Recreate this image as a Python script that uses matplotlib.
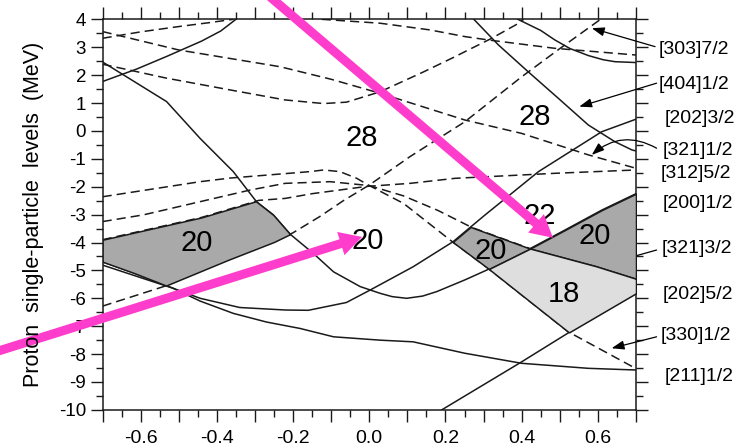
import numpy as np
import matplotlib
matplotlib.use('Agg')
import matplotlib.pyplot as plt
from matplotlib.ticker import MultipleLocator, FuncFormatter
from matplotlib.patches import FancyArrowPatch

plt.rcParams['font.family'] = ['Liberation Sans', 'DejaVu Sans']
plt.rcParams['axes.unicode_minus'] = False

# ---- single-particle levels, (deformation, energy) points ----
# solid levels
x_200_12 = [-0.70, -0.532, -0.444, -0.357, -0.296, -0.252, -0.208, -0.147, -0.094, -0.024,
            0.028, 0.06, 0.098, 0.14, 0.177, 0.251, 0.308, 0.422, 0.514, 0.61, 0.70]
y_200_12 = [2.47, 1.05, -0.27, -1.46, -2.54, -3.01, -3.70, -4.39, -5.05, -5.58,
            -5.82, -5.94, -6.00, -5.92, -5.76, -5.34, -4.99, -4.22, -3.55, -2.84, -2.25]

x_202_32 = [-0.70, -0.62, -0.515, -0.444, -0.34, -0.22, -0.16, -0.06, 0.0, 0.115,
            0.22, 0.304, 0.352, 0.444, 0.61, 0.70]
y_202_32 = [-4.69, -5.08, -5.64, -6.00, -6.33, -6.42, -6.43, -6.15, -5.72, -4.87,
            -3.97, -3.01, -2.48, -1.46, -0.03, 0.42]

x_211_12 = [-0.70, -0.60, -0.515, -0.444, -0.357, -0.27, -0.182, -0.094, 0.028, 0.115,
            0.251, 0.40, 0.575, 0.70]
y_211_12 = [-4.81, -5.26, -5.64, -6.10, -6.54, -6.85, -7.08, -7.38, -7.50, -7.56,
            -7.97, -8.33, -8.51, -8.57]

x_202_52 = [0.19, 0.396, 0.527, 0.70]
y_202_52 = [-10.0, -8.31, -7.20, -5.82]

x_404_12 = [0.273, 0.339, 0.417, 0.496, 0.575, 0.645, 0.689, 0.70]
y_404_12 = [4.02, 3.08, 2.12, 1.17, 0.21, -0.39, -0.68, -0.72]

x_top_r = [0.39, 0.45, 0.487, 0.527, 0.575, 0.614, 0.645, 0.70]
y_top_r = [4.0, 3.6, 3.26, 2.95, 2.70, 2.55, 2.48, 2.45]

x_top_l = [-0.70, -0.61, -0.53, -0.44, -0.39, -0.35]
y_top_l = [1.77, 2.22, 2.68, 3.22, 3.58, 4.0]

# dashed levels
x_d1 = [-0.70, -0.60, -0.50, -0.42, -0.357]
y_d1 = [3.32, 3.55, 3.74, 3.88, 4.0]

x_321_12 = [-0.70, -0.50, -0.234, -0.10, 0.028, 0.251, 0.40, 0.575, 0.70]
y_321_12 = [3.56, 2.90, 2.30, 1.85, 1.35, 0.39, -0.09, -0.86, -1.34]

x_d3 = [-0.70, -0.532, -0.35, -0.221, -0.12, -0.06, 0.028, 0.14, 0.225, 0.251, 0.32, 0.391, 0.405]
y_d3 = [2.39, 1.89, 1.43, 1.11, 0.98, 1.03, 1.40, 2.10, 2.66, 2.84, 3.31, 3.85, 4.0]

x_303_72 = [-0.70, -0.54, -0.37, -0.25, -0.20, -0.13, -0.068, 0.0, 0.107, 0.251, 0.40, 0.50, 0.607]
y_303_72 = [-6.28, -5.58, -4.62, -3.98, -3.65, -3.07, -2.50, -1.94, -0.92, 0.33, 1.94, 2.95, 4.0]

x_312_52 = [-0.70, -0.44, -0.29, -0.221, -0.15, -0.007, 0.107, 0.225, 0.487, 0.70]
y_312_52 = [-3.90, -3.10, -2.49, -2.42, -2.25, -1.99, -1.88, -1.70, -1.52, -1.40]

x_d6 = [-0.125, 0.028, 0.159, 0.251, 0.312, 0.487, 0.70]
y_d6 = [4.0, 3.86, 3.62, 3.38, 3.26, 2.96, 2.72]

x_321_32 = [-0.70, -0.593, -0.313, -0.221, -0.103, 0.0, 0.09, 0.18, 0.269, 0.42, 0.595, 0.70]
y_321_32 = [-3.25, -3.01, -2.12, -1.88, -1.82, -1.96, -2.33, -2.85, -3.46, -4.21, -4.85, -5.30]

x_330_12 = [-0.70, -0.444, -0.365, -0.156, -0.12, -0.077, -0.033, 0.0, 0.09, 0.212, 0.312, 0.522, 0.70]
y_330_12 = [-2.36, -1.82, -1.69, -1.46, -1.40, -1.46, -1.70, -1.96, -2.60, -3.91, -4.93, -7.20, -8.52]

solid_levels = [(x_200_12, y_200_12), (x_202_32, y_202_32), (x_211_12, y_211_12),
                (x_202_52, y_202_52), (x_404_12, y_404_12), (x_top_r, y_top_r),
                (x_top_l, y_top_l)]
dashed_levels = [(x_d1, y_d1), (x_321_12, y_321_12), (x_d3, y_d3), (x_303_72, y_303_72),
                 (x_312_52, y_312_52), (x_d6, y_d6), (x_321_32, y_321_32),
                 (x_330_12, y_330_12)]

# shell gap numbers
gap_text = ['28', '28', '20', '20', '22', '20', '20', '18']
gap_x = [-0.02, 0.435, -0.453, -0.005, 0.448, 0.319, 0.592, 0.511]
gap_y = [-0.27, 0.49, -4.03, -3.94, -3.05, -4.30, -3.76, -5.85]

# Nilsson labels on the right
nil_text = ['[303]7/2', '[404]1/2', '[202]3/2', '[321]1/2', '[312]5/2',
            '[200]1/2', '[321]3/2', '[202]5/2', '[330]1/2', '[211]1/2']
nil_x = [0.759, 0.759, 0.776, 0.771, 0.765, 0.771, 0.768, 0.771, 0.765, 0.776]
nil_y = [2.90, 1.65, 0.46, -0.72, -1.54, -2.62, -4.20, -5.85, -7.32, -8.82]

# label arrows: (start, tip, curvature)
ptr_start = [(0.75, 3.02), (0.754, 1.71), (0.754, -0.62), (0.754, -4.27), (0.754, -7.38)]
ptr_tip = [(0.584, 3.68), (0.551, 0.87), (0.584, -0.86), (0.597, -4.87), (0.636, -7.79)]
ptr_rad = [0.0, 0.0, 0.35, 0.0, 0.0]

MAGENTA = '#ff3dcc'
DARK = '#a9a9a9'
LIGHT = '#dedede'
LC = '#1a1a1a'

fig = plt.figure(figsize=(7.48, 4.46), dpi=100)
ax = fig.add_axes([102.6 / 748, 36.1 / 446, 533.4 / 748, 390.6 / 446])

for xs, ys in solid_levels:
    ax.plot(xs, ys, color=LC, lw=1.1, zorder=3)
for xs, ys in dashed_levels:
    ax.plot(xs, ys, color=LC, lw=1.1, dashes=(6.0, 3.3), zorder=3)


def lvl(xs, ys, grid):
    return np.interp(grid, xs, ys)


# shaded gaps, bounded by the levels
g = np.linspace(-0.70, -0.19, 600)
top = np.minimum(lvl(x_312_52, y_312_52, g), lvl(x_200_12, y_200_12, g))
bot = np.maximum(lvl(x_303_72, y_303_72, g), lvl(x_202_32, y_202_32, g))
ax.fill_between(g, bot, top, where=top > bot, interpolate=True,
                facecolor=DARK, edgecolor=LC, lw=1.1, zorder=4)

g = np.linspace(0.19, 0.44, 600)
top = np.minimum(lvl(x_202_32, y_202_32, g), lvl(x_321_32, y_321_32, g))
bot = np.maximum(lvl(x_330_12, y_330_12, g), lvl(x_200_12, y_200_12, g))
ax.fill_between(g, bot, top, where=top > bot, interpolate=True,
                facecolor=DARK, edgecolor=LC, lw=1.1, zorder=4)

g = np.linspace(0.40, 0.70, 600)
top = lvl(x_200_12, y_200_12, g)
bot = lvl(x_321_32, y_321_32, g)
ax.fill_between(g, bot, top, where=top > bot, interpolate=True,
                facecolor=DARK, edgecolor=LC, lw=1.1, zorder=4)

g = np.linspace(0.28, 0.70, 600)
top = np.minimum(lvl(x_321_32, y_321_32, g), lvl(x_200_12, y_200_12, g))
bot = np.maximum(lvl(x_330_12, y_330_12, g), lvl(x_202_52, y_202_52, g))
ax.fill_between(g, bot, top, where=top > bot, interpolate=True,
                facecolor=LIGHT, edgecolor=LC, lw=1.1, zorder=4)

for t, x, y in zip(gap_text, gap_x, gap_y):
    ax.text(x, y, t, fontsize=21, ha='center', va='center', zorder=6)

for t, x, y in zip(nil_text, nil_x, nil_y):
    ax.text(x, y, t, fontsize=14, ha='left', va='center', clip_on=False)

for s, e, r in zip(ptr_start, ptr_tip, ptr_rad):
    ax.annotate('', xy=e, xytext=s, annotation_clip=False,
                arrowprops=dict(arrowstyle='-|>,head_length=0.75,head_width=0.27',
                                color='black', lw=0.9, shrinkA=0, shrinkB=0,
                                mutation_scale=10, connectionstyle='arc3,rad=%s' % r))

# the two pointers
for a, b in [((-0.26, 4.80), (0.482, -3.83)), ((-0.99, -7.96), (-0.019, -3.80))]:
    ax.add_patch(FancyArrowPatch(a, b, arrowstyle='simple,head_length=1.6,head_width=1.75,tail_width=0.65',
                                 mutation_scale=10, color=MAGENTA, lw=0, shrinkA=0, shrinkB=0,
                                 clip_on=False, zorder=10))

ax.set_xlim(-0.7, 0.7)
ax.set_ylim(-10, 4)

ax.xaxis.set_major_locator(MultipleLocator(0.1))
ax.xaxis.set_minor_locator(MultipleLocator(0.05))
ax.yaxis.set_major_locator(MultipleLocator(1))
ax.yaxis.set_minor_locator(MultipleLocator(0.5))


def xfmt(v, pos):
    k = int(round(v * 10))
    if k % 2:
        return ''
    return '%.1f' % (k / 10.0)


ax.xaxis.set_major_formatter(FuncFormatter(xfmt))
ax.tick_params(which='both', direction='out', top=True, right=True, width=1.0, color=LC)
ax.tick_params(which='major', length=8.4)
ax.tick_params(which='minor', length=4.8)
ax.tick_params(axis='x', labelsize=14, pad=6)
ax.tick_params(axis='y', labelsize=13.5, pad=3.5)
for sp in ax.spines.values():
    sp.set_linewidth(1.1)
    sp.set_color(LC)

fig.text(34 / 748, 1 - 214 / 446, 'Proton  single-particle  levels  (MeV)', rotation=90,
         ha='center', va='center', fontsize=15.5)

fig.savefig('out.png', dpi=100)
